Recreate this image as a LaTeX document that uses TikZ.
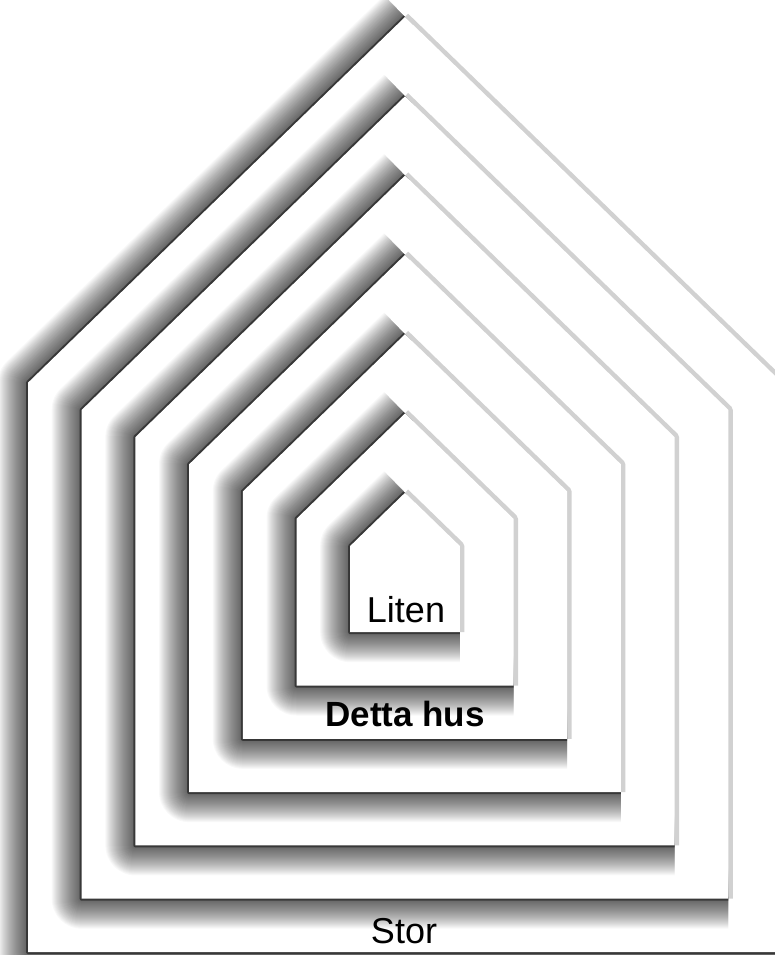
\documentclass[tikz,border=0pt]{standalone}
\usepackage{fontspec}
\setmainfont{Liberation Sans}
\tikzset{
  shadowlayer/.style={draw=black, draw opacity=0.028, line join=round, line cap=butt},
  shadowedge/.style={draw=black, draw opacity=0.45, line width=4pt, line join=round},
  rimline/.style={draw=black!18, line width=9pt, line join=round},
  housefill/.style={fill=white},
  lbl/.style={font=\fontsize{36}{40}\selectfont, inner sep=0pt, anchor=base},
}
\begin{document}
\begin{tikzpicture}[x=1pt,y=-1pt]
\useasboundingbox (0,0) rectangle (775,955);
\clip (0,0) rectangle (775,955);
\fill[white] (0,0) rectangle (775,955);
\foreach \i in {0,...,6}{
  \pgfmathsetmacro{\w}{377-53.7*\i}
  \pgfmathsetmacro{\ap}{17+79.3*\i}
  \pgfmathsetmacro{\bt}{952-53.3*\i}
  \pgfmathsetmacro{\ev}{\ap+0.97*\w}
  \pgfmathsetmacro{\L}{405-\w}
  \pgfmathsetmacro{\R}{405+\w}
  \draw[rimline] (405,\ap) -- (\R,\ev) -- (\R,\bt);
  \foreach \r in {1,...,30}{
    \pgfmathsetmacro{\lw}{2*\r}
    \draw[shadowlayer, line width=\lw pt] (\R,\bt) -- (\L,\bt) -- (\L,\ev) -- (405,\ap);
  }
  \draw[shadowedge] (\R,\bt) -- (\L,\bt) -- (\L,\ev) -- (405,\ap);
  \fill[housefill] (405,\ap) -- (\R,\ev) -- (\R,\bt) -- (\L,\bt) -- (\L,\ev) -- cycle;
}
\node[lbl] (liten) at (406,622) {Liten};
\node[lbl, font=\fontsize{35}{40}\selectfont\bfseries] (detta) at (405,726) {Detta hus};
\node[lbl] (stor) at (404,943) {Stor};
\end{tikzpicture}
\end{document}
